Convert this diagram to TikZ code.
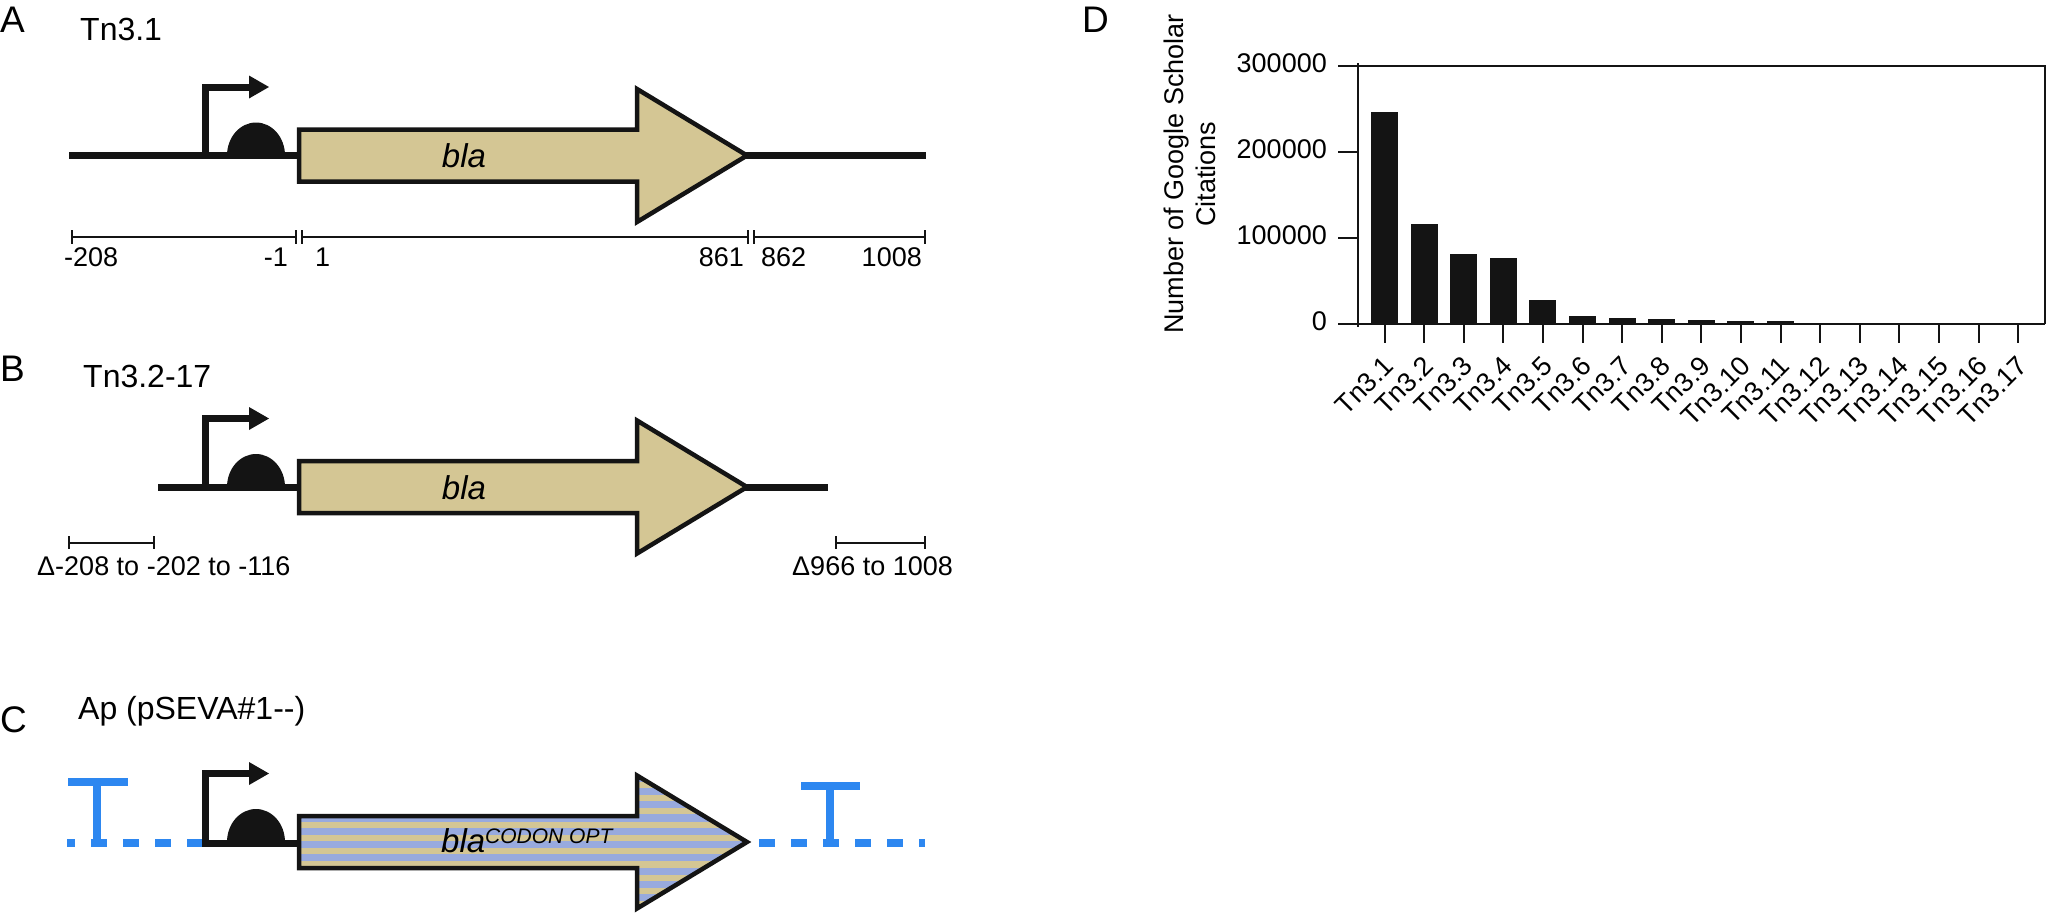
\documentclass[tikz,border=0pt]{standalone}
\usepackage{fontspec}
\setmainfont{Liberation Sans}
\definecolor{genetan}{RGB}{212,198,148}
\definecolor{stripeblue}{RGB}{152,170,222}
\definecolor{termblue}{RGB}{45,135,240}
\definecolor{ink}{RGB}{20,20,20}
\tikzset{
  panel/.style={font=\fontsize{37}{40}\selectfont, inner sep=0pt},
  ttl/.style={font=\fontsize{32}{36}\selectfont, inner sep=0pt},
  num/.style={font=\fontsize{27}{30}\selectfont, inner sep=0pt},
  genename/.style={font=\fontsize{33}{36}\selectfont\itshape, inner sep=0pt},
  dna/.style={line width=7pt, draw=ink},
  genebox/.style={line width=4.5pt, draw=ink, line join=miter},
  scalebar/.style={line width=2pt, draw=ink},
  blueline/.style={line width=7.5pt, draw=termblue, dash pattern={on 16pt off 16pt}},
  term/.style={line width=8.5pt, draw=termblue},
  axis/.style={line width=2pt, draw=ink},
  bar/.style={fill=ink},
}
\newcommand{\genepath}{(299,-26) -- (637,-26) -- (637,-66.5) -- (747,0) -- (637,66.5) -- (637,26) -- (299,26) -- cycle}
\newcommand{\promoterRBS}{%
  \draw[dna, line cap=butt, line join=miter] (205.5,0) -- (205.5,-68.5) -- (251,-68.5);
  \fill[ink] (249,-80) -- (269,-68.5) -- (249,-57) -- cycle;
  \fill[ink] (227,0) arc[start angle=180, end angle=360, x radius=29, y radius=33] -- cycle;
}
\begin{document}
\begin{tikzpicture}[x=1pt, y=-1pt]
\useasboundingbox (0,0) rectangle (2048,914);

% ---------------- Panel A ----------------
\node[panel, anchor=base west] (lA) at (0,32) {A};
\node[ttl, anchor=base west] (tA) at (80,40) {Tn3.1};
\begin{scope}[shift={(0,155.5)}]
  \draw[dna] (69,0) -- (300,0);
  \draw[dna] (745,0) -- (926,0);
  \promoterRBS
  \path[genebox, fill=genetan] \genepath;
  \node[genename, anchor=base] (gA) at (464,12) {bla};
\end{scope}
% scale bar A
\draw[scalebar] (72,237) -- (296,237);
\draw[scalebar] (302,237) -- (748,237);
\draw[scalebar] (754,237) -- (925,237);
\foreach \xx in {72,296,302,748,754,925} \draw[line width=1.6pt, ink] (\xx,230) -- (\xx,244);
\node[num, anchor=base west] (nA1) at (64,266) {-208};
\node[num, anchor=base east] (nA2) at (288,266) {-1};
\node[num, anchor=base west] (nA3) at (315,266) {1};
\node[num, anchor=base east] (nA4) at (744,266) {861};
\node[num, anchor=base west] (nA5) at (761,266) {862};
\node[num, anchor=base east] (nA6) at (922,266) {1008};

% ---------------- Panel B ----------------
\node[panel, anchor=base west] (lB) at (0,381) {B};
\node[ttl, anchor=base west] (tB) at (83,387) {Tn3.2-17};
\begin{scope}[shift={(0,487)}]
  \draw[dna] (158,0) -- (300,0);
  \draw[dna] (745,0) -- (828,0);
  \promoterRBS
  \path[genebox, fill=genetan] \genepath;
  \node[genename, anchor=base] (gB) at (464,12) {bla};
\end{scope}
\draw[scalebar] (69,543) -- (154,543);
\draw[scalebar] (836,543) -- (925,543);
\foreach \xx in {69,154,836,925} \draw[line width=1.6pt, ink] (\xx,536) -- (\xx,549);
\node[num, anchor=base west] (nB1) at (37,575) {Δ-208 to -202 to -116};
\node[num, anchor=base west] (nB2) at (792,575) {Δ966 to 1008};

% ---------------- Panel C ----------------
\node[panel, anchor=base west] (lC) at (0,732) {C};
\node[ttl, anchor=base west] (tC) at (78,719) {Ap (pSEVA\#1-{}-)};
\begin{scope}[shift={(0,842)}]
  \draw[blueline, dash phase=8pt] (67,1) -- (205,1);
  \draw[blueline] (759,1) -- (925,1);
  \draw[term] (97,1) -- (97,-60);
  \draw[term] (68,-60) -- (128,-60);
  \draw[term] (830,1) -- (830,-56);
  \draw[term] (801,-56) -- (860,-56);
  \draw[dna] (202,1) -- (300,1);
  \promoterRBS
  \begin{scope}
    \clip \genepath;
    \fill[genetan] (290,-70) rectangle (760,70);
    \foreach \k in {-4,...,5} \fill[stripeblue] (290,{-14.3+13.3*\k}) rectangle (760,{-7.2+13.3*\k});
  \end{scope}
  \path[genebox] \genepath;
  \node[genename, anchor=base west] (gC) at (441,10) {bla\raisebox{9pt}{\fontsize{21}{22}\selectfont CODON OPT}};
\end{scope}

% ---------------- Panel D ----------------
\node[panel, anchor=base west] (lD) at (1082,32) {D};
\node[num, rotate=90, align=center, font=\fontsize{27}{32}\selectfont] (ylab) at (1190,174) {Number of Google Scholar\\Citations};
% axes and frame
\draw[axis] (1358,63) -- (1358,327);
\draw[axis] (1338,66) -- (2045,66) -- (2045,324);
\draw[axis] (1338,324) -- (2045,324);
\draw[axis] (1338,152) -- (1358,152);
\draw[axis] (1338,238) -- (1358,238);
\node[num, anchor=base east] (y3) at (1327,72) {300000};
\node[num, anchor=base east] (y2) at (1327,158) {200000};
\node[num, anchor=base east] (y1) at (1327,244) {100000};
\node[num, anchor=base east] (y0) at (1327,330) {0};
% bars (values in thousands)
\foreach \v [count=\i] in {246.5,116,81,77,28,9.3,7,5.8,4.6,3.5,3.5} {
  \fill[bar] ({1384.5+39.6*(\i-1)-13.5},324) rectangle ({1384.5+39.6*(\i-1)+13.5},{324-\v*0.86});
}
% x ticks and labels
\foreach \i in {1,...,17} {
  \draw[axis] ({1384.5+39.6*(\i-1)},324) -- ({1384.5+39.6*(\i-1)},343);
  \node[num, rotate=45, anchor=north east] (xl\i) at ({1382+39.6*(\i-1)},354) {Tn3.\i};
}
\end{tikzpicture}
\end{document}
